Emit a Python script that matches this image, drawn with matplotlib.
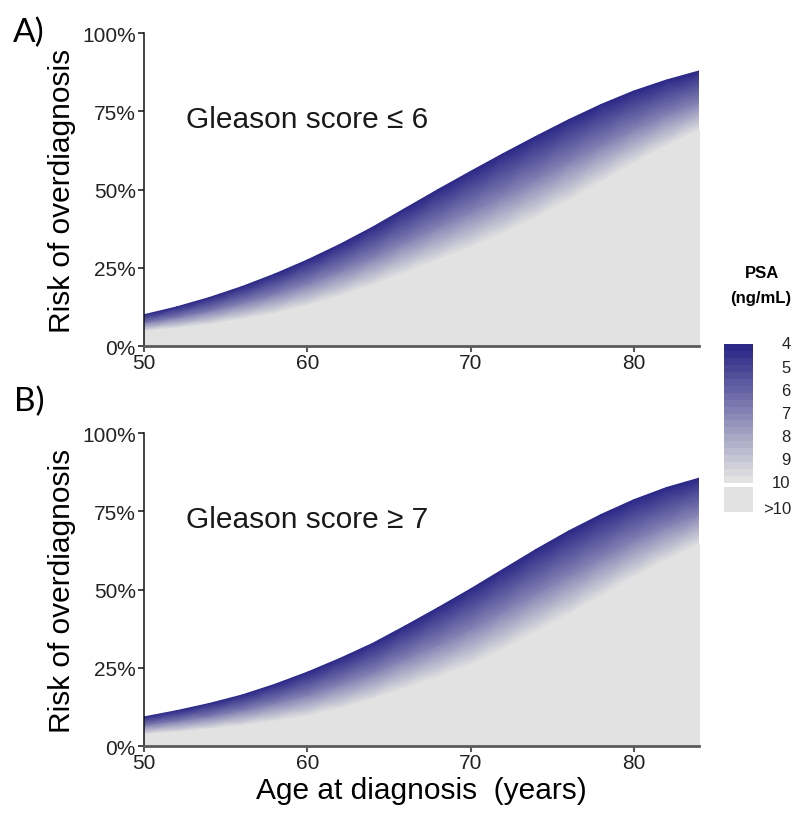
import numpy as np
import matplotlib
matplotlib.use("Agg")
import matplotlib.pyplot as plt
from matplotlib.colors import LinearSegmentedColormap, Normalize, ListedColormap
from matplotlib.cm import ScalarMappable
from matplotlib.patches import Rectangle

plt.rcParams['font.family'] = ['Liberation Sans', 'DejaVu Sans']

# age at diagnosis (years)
ages = [50, 52, 54, 56, 58, 60, 62, 64, 66, 68, 70, 72, 74, 76, 78, 80, 82, 84]

# risk of overdiagnosis, Gleason <= 6, at PSA = 4, 7 and 10 ng/mL
risk_a_psa4 = [0.100, 0.125, 0.155, 0.190, 0.230, 0.275, 0.325, 0.380, 0.440,
               0.500, 0.558, 0.615, 0.670, 0.723, 0.772, 0.815, 0.850, 0.879]
risk_a_psa7 = [0.071, 0.088, 0.108, 0.133, 0.161, 0.195, 0.234, 0.278, 0.327,
               0.376, 0.424, 0.475, 0.527, 0.582, 0.637, 0.689, 0.735, 0.775]
risk_a_psa10 = [0.048, 0.058, 0.070, 0.086, 0.105, 0.130, 0.160, 0.195, 0.235,
                0.275, 0.315, 0.360, 0.410, 0.465, 0.525, 0.585, 0.640, 0.690]

# risk of overdiagnosis, Gleason >= 7
risk_b_psa4 = [0.093, 0.113, 0.136, 0.163, 0.197, 0.236, 0.280, 0.328, 0.384,
               0.442, 0.502, 0.565, 0.628, 0.687, 0.740, 0.787, 0.826, 0.856]
risk_b_psa7 = [0.063, 0.076, 0.091, 0.110, 0.133, 0.159, 0.193, 0.230, 0.275,
               0.320, 0.369, 0.425, 0.483, 0.540, 0.597, 0.651, 0.699, 0.740]
risk_b_psa10 = [0.038, 0.045, 0.055, 0.066, 0.080, 0.096, 0.120, 0.150, 0.185,
                0.220, 0.260, 0.310, 0.365, 0.420, 0.480, 0.540, 0.595, 0.645]

psa_rows = [4, 7, 10]
psa_ticks = [4, 5, 6, 7, 8, 9, 10]
panel_labels = ['A)', 'B)']
gleason_labels = ['Gleason score \u2264 6', 'Gleason score \u2265 7']

navy = '#2b2887'
grey = '#e2e2e2'
cmap = LinearSegmentedColormap.from_list('psa', [navy, grey])
norm = Normalize(vmin=4, vmax=10)

fig = plt.figure(figsize=(8, 8.2), dpi=100)

axes_pos = [[0.18, 0.5768, 0.694, 0.3817], [0.18, 0.089, 0.694, 0.3817]]
curves = [(risk_a_psa4, risk_a_psa7, risk_a_psa10),
          (risk_b_psa4, risk_b_psa7, risk_b_psa10)]

for i, rows in enumerate(curves):
    ax = fig.add_axes(axes_pos[i])
    x = np.array(ages, dtype=float)

    # gradient band from PSA 4 down to PSA 10
    X = np.vstack([x] * len(rows))
    Y = np.vstack(rows)
    C = np.vstack([np.full_like(x, p) for p in psa_rows])
    ax.pcolormesh(X, Y, C, shading='gouraud', cmap=cmap, norm=norm,
                  antialiased=True, zorder=1)
    # >10 region, edge drawn over the seam
    ax.fill_between(x, 0, rows[2], facecolor=grey, edgecolor=grey, lw=1.2,
                    zorder=2)

    ax.set_xlim(50, 84)
    ax.set_ylim(0, 1)
    ax.set_xticks([50, 60, 70, 80])
    ax.set_yticks([0, 0.25, 0.5, 0.75, 1.0])
    ax.set_yticklabels(['0%', '25%', '50%', '75%', '100%'])
    ax.spines['top'].set_visible(False)
    ax.spines['right'].set_visible(False)
    ax.spines['left'].set_linewidth(1.1)
    ax.spines['left'].set_color('#111111')
    ax.spines['bottom'].set_linewidth(2.0)
    ax.spines['bottom'].set_color('#5a5a5a')
    ax.spines['left'].set_zorder(3)
    ax.spines['bottom'].set_zorder(3)
    ax.tick_params(axis='y', length=4, width=1.1, color='#111111',
                   labelsize=15, labelcolor='#222222', pad=2)
    ax.tick_params(axis='x', length=4, width=1.5, color='#5a5a5a',
                   labelsize=15, labelcolor='#222222', pad=1)
    ax.set_ylabel('Risk of overdiagnosis', fontsize=21.5, labelpad=4)
    ax.text(52.6, 0.725, gleason_labels[i], fontsize=21.5, va='center',
            ha='left', color='#1a1a1a')
    if i == 1:
        ax.set_xlabel('Age at diagnosis  (years)', fontsize=21.5, labelpad=3)

fig.text(0.036, 1 - 33 / 820, panel_labels[0], fontsize=24,
         family=['Lato', 'DejaVu Sans'], ha='center', va='center')
fig.text(0.036, 1 - 402 / 820, panel_labels[1], fontsize=24,
         family=['Lato', 'DejaVu Sans'], ha='center', va='center')

# PSA legend
fig.text(762 / 800, 1 - 273 / 820, 'PSA', fontsize=12, fontweight='bold',
         ha='center', va='center')
fig.text(761 / 800, 1 - 299 / 820, '(ng/mL)', fontsize=12, fontweight='bold',
         ha='center', va='center')

cax = fig.add_axes([724 / 800, 1 - 484 / 820, 29 / 800, 139 / 820])
bins = ListedColormap(cmap(np.linspace(0, 1, 20)))
cb = fig.colorbar(ScalarMappable(norm=norm, cmap=bins), cax=cax)
cb.outline.set_visible(False)
cax.invert_yaxis()
cax.set_yticks([])
tr = cax.get_yaxis_transform()
for v in psa_ticks:
    cax.text(2.3, v, str(v), transform=tr, ha='right', va='center',
             fontsize=12, color='#222222')

fig.patches.append(Rectangle((724 / 800, 1 - 513 / 820), 29 / 800, 25 / 820,
                             transform=fig.transFigure, color=grey, lw=0))
fig.text(791 / 800, 1 - 509 / 820, '>10', ha='right', va='center',
         fontsize=12, color='#222222')

fig.savefig('out.png', dpi=100)
